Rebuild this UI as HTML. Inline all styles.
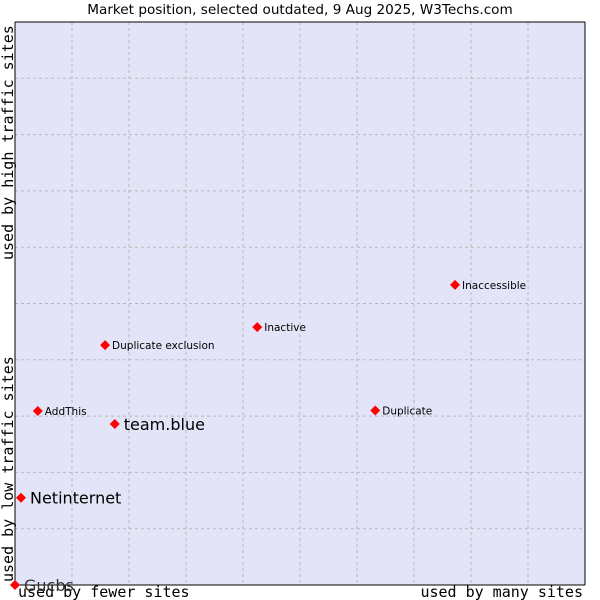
<!DOCTYPE html>
<html><head><meta charset="utf-8"><style>
body{margin:0;background:#fff;}
svg{display:block;font-family:"DejaVu Sans","Liberation Sans",sans-serif;}
</style></head><body>
<svg id="chart" width="600" height="600">
<text x="300" y="14" text-anchor="middle" font-size="13.6" fill="#000">Market position, selected outdated, 9 Aug 2025, W3Techs.com</text>
<rect x="15" y="22" width="570" height="563" fill="#e4e4f8"/>
<g id="grid"></g>
<line x1="15" y1="22" x2="15" y2="585" stroke="#000"/>
<line x1="15" y1="585" x2="585" y2="585" stroke="#000"/>
<line x1="585" y1="22" x2="585" y2="585" stroke="#000"/>
<line x1="15" y1="22" x2="585" y2="22" stroke="#000"/>
<g font-family="'DejaVu Sans Mono','Liberation Mono',monospace" font-size="15" fill="#000">
<text x="18" y="597">used by fewer sites</text>
<text x="583" y="597" text-anchor="end">used by many sites</text>
<text transform="translate(13,582) rotate(-90)">used by low traffic sites</text>
<text transform="translate(13,260) rotate(-90)">used by high traffic sites</text>
</g>
<g id="points"></g>
</svg>
<script>
const names=["Gucbs","Netinternet","team.blue","AddThis","Duplicate exclusion","Inactive","Duplicate","Inaccessible"];
const xVals=[0,0.105,1.75,0.40,1.58,4.25,6.32,7.72];
const yVals=[0,1.55,2.86,3.09,4.26,4.58,3.10,5.33];
const bigLabel=[true,true,true,false,false,false,false,false];
const NS="http://www.w3.org/2000/svg";
const X0=15,X1=585,Y0=585,Y1=22;
const sx=v=>X0+v/10*(X1-X0);
const sy=v=>Y0-v/10*(Y0-Y1);
const grid=document.getElementById('grid');
for(let i=1;i<10;i++){
 const l=document.createElementNS(NS,'line');
 
 
 l.setAttribute('x1',sx(i));l.setAttribute('x2',sx(i));l.setAttribute('y1',Y1);l.setAttribute('y2',Y0);
 l.setAttribute('stroke','#b8b8b8');l.setAttribute('stroke-dasharray','3,3');grid.appendChild(l);
 const h=document.createElementNS(NS,'line');
 
 
 h.setAttribute('x1',X0);h.setAttribute('x2',X1);h.setAttribute('y1',sy(i));h.setAttribute('y2',sy(i));
 h.setAttribute('stroke','#b8b8b8');h.setAttribute('stroke-dasharray','3,3');grid.appendChild(h);
}
const pts=document.getElementById('points');
names.forEach((n,i)=>{
 const x=sx(xVals[i]),y=sy(yVals[i]);
 const d=document.createElementNS(NS,'path');
 
 
 d.setAttribute('d',`M${x} ${y-5}L${x+5} ${y}L${x} ${y+5}L${x-5} ${y}Z`);
 d.setAttribute('fill','#ff0000');pts.appendChild(d);
 const t=document.createElementNS(NS,'text');
 
 
 const big=bigLabel[i];
 t.setAttribute('x',x+(big?9:7));t.setAttribute('y',y+(big?6:4));
 t.setAttribute('font-size',big?16:10.5);
 t.setAttribute('fill',i===0?'#333':'#000');
 t.textContent=n;pts.appendChild(t);
});
</script>
</body></html>
